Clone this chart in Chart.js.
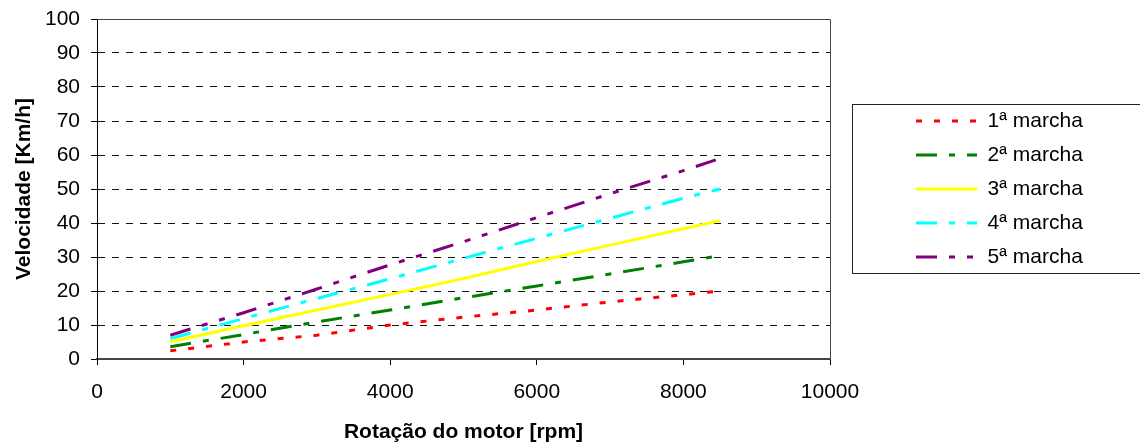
<!DOCTYPE html>
<html>
<head>
<meta charset="utf-8">
<title>Velocidade x Rotação</title>
<script src="https://cdn.jsdelivr.net/npm/chart.js@4.4.1/dist/chart.umd.min.js"></script>
<style>
  body { margin: 0; background: #fff; }
  #box { width: 1140px; height: 446px; }
</style>
</head>
<body>
<div id="box"><canvas id="speedChart"></canvas></div>
<script>
// rotação do motor (rpm) e velocidade em cada marcha (km/h)
const rpm = [1000, 2000, 3000, 4000, 5000, 6000, 7000, 8000, 8500];
const marcha1 = [2.4, 5.0, 7.0, 10.0, 12.3, 14.4, 16.8, 18.9, 20.0];
const marcha2 = [3.6, 7.2, 10.9, 14.4, 18.0, 21.5, 25.0, 28.6, 30.4];
const marcha3 = [5.1, 9.8, 14.4, 19.0, 23.7, 28.7, 33.5, 38.3, 40.7];
const marcha4 = [6.0, 11.9, 17.8, 23.6, 29.6, 35.5, 41.4, 47.3, 50.0];
const marcha5 = [7.0, 13.6, 20.6, 27.7, 34.5, 41.6, 48.6, 55.4, 59.0];
const seriesNames = ["1ª marcha", "2ª marcha", "3ª marcha", "4ª marcha", "5ª marcha"];
const xTicks = [0, 2000, 4000, 6000, 8000, 10000];
const yTicks = [0, 10, 20, 30, 40, 50, 60, 70, 80, 90, 100];

Chart.defaults.font.family = '"Liberation Sans", Arial, sans-serif';
Chart.defaults.font.size = 21;
Chart.defaults.color = "#000";

function points(values) {
    return rpm.map((r, i) => ({ x: r, y: values[i] }));
}

function serie(label, values, color, dash) {
    return {
        label: label,
        data: points(values),
        borderColor: color,
        backgroundColor: color,
        borderWidth: 3,
        borderDash: dash,
        borderCapStyle: "butt",
        pointRadius: 0,
        tension: 0,
        fill: false
    };
}

// legend keeps a fixed width so the items sit where the original has them
const legendWidth = {
    id: "legendWidth",
    beforeInit(chart) {
        const fit = chart.legend.fit;
        chart.legend.fit = function () {
            fit.call(this);
            this.width = 237;
        };
    }
};

// solid top/right edge of the plot area
const plotFrame = {
    id: "plotFrame",
    beforeDatasetsDraw(chart) {
        const { ctx, chartArea: a } = chart;
        ctx.save();
        ctx.strokeStyle = "#444";
        ctx.lineWidth = 1;
        ctx.setLineDash([]);
        ctx.beginPath();
        ctx.moveTo(a.left, Math.round(a.top) + 0.5);
        ctx.lineTo(Math.round(a.right) + 0.5, Math.round(a.top) + 0.5);
        ctx.lineTo(Math.round(a.right) + 0.5, a.bottom);
        ctx.stroke();
        ctx.restore();
    }
};

// box round the legend
const legendFrame = {
    id: "legendFrame",
    afterDraw(chart) {
        const lg = chart.legend;
        const boxes = lg.legendHitBoxes;
        if (!boxes || !boxes.length) return;
        const first = boxes[0];
        const last = boxes[boxes.length - 1];
        const ctx = chart.ctx;
        const top = Math.round(first.top - 7) + 0.5;
        const bottom = Math.round(last.top + last.height + 5) + 0.5;
        ctx.save();
        ctx.strokeStyle = "#222";
        ctx.lineWidth = 1;
        ctx.setLineDash([]);
        ctx.strokeRect(Math.round(lg.left - 51) + 0.5, top, chart.width, bottom - top);
        ctx.restore();
    }
};

const ctx = document.getElementById("speedChart").getContext("2d");

const speedChart = new Chart(ctx, {
    type: "line",
    data: {
        datasets: [
            serie(seriesNames[0], marcha1, "#FF0000", [6, 12]),
            serie(seriesNames[1], marcha2, "#008000", [21, 12, 6, 12]),
            serie(seriesNames[2], marcha3, "#FFFF00", []),
            serie(seriesNames[3], marcha4, "#00FFFF", [21, 12, 6, 12]),
            serie(seriesNames[4], marcha5, "#800080", [21, 12, 6, 12, 6, 12])
        ]
    },
    options: {
        responsive: true,
        maintainAspectRatio: false,
        animation: false,
        layout: { padding: { top: 19, right: 0, bottom: 0, left: 0 } },
        plugins: {
            tooltip: { enabled: false },
            legend: {
                position: "right",
                align: "center",
                fullSize: false,
                labels: {
                    usePointStyle: true,
                    pointStyleWidth: 61,
                    padding: 13,
                    color: "#000",
                    font: { size: 21 },
                    generateLabels(chart) {
                        return chart.data.datasets.map((ds, i) => ({
                            text: ds.label,
                            fillStyle: ds.borderColor,
                            strokeStyle: ds.borderColor,
                            fontColor: "#000",
                            lineWidth: ds.borderWidth,
                            lineDash: ds.borderDash,
                            lineCap: "butt",
                            pointStyle: "line",
                            rotation: 180,
                            hidden: false,
                            datasetIndex: i
                        }));
                    }
                }
            }
        },
        scales: {
            x: {
                type: "linear",
                position: "bottom",
                min: 0,
                max: 10000,
                afterBuildTicks(scale) {
                    scale.ticks = xTicks.map((v) => ({ value: v }));
                },
                afterFit(scale) {
                    scale.height = 87;
                },
                grid: {
                    drawOnChartArea: false,
                    drawTicks: true,
                    tickLength: 6,
                    tickColor: "#000",
                    tickWidth: 1
                },
                border: { display: true, color: "#444", width: 2 },
                ticks: {
                    padding: 15,
                    maxRotation: 0,
                    autoSkip: false,
                    color: "#000",
                    font: { size: 21 },
                    callback: (value) => String(value)
                },
                title: {
                    display: true,
                    text: "Rotação do motor [rpm]",
                    color: "#000",
                    font: { size: 21, weight: "bold" },
                    padding: { top: 0, bottom: 1 }
                }
            },
            y: {
                type: "linear",
                position: "left",
                min: 0,
                max: 100,
                afterBuildTicks(scale) {
                    scale.ticks = yTicks.map((v) => ({ value: v }));
                },
                afterFit(scale) {
                    scale.width = 97;
                    scale.paddingTop = 0;
                    scale.paddingBottom = 0;
                },
                grid: {
                    drawOnChartArea: true,
                    color: "#111",
                    lineWidth: 1,
                    tickLength: 6,
                    tickColor: "#000",
                    tickWidth: 1,
                    tickBorderDash: []
                },
                border: { display: true, color: "#000", width: 1, dash: [7, 7] },
                ticks: {
                    padding: 11,
                    color: "#000",
                    font: { size: 21 },
                    callback: (value) => String(value)
                },
                title: {
                    display: true,
                    text: "Velocidade [Km/h]",
                    color: "#000",
                    font: { size: 21, weight: "bold" },
                    padding: { top: 12, bottom: 0 }
                }
            },
            gap: {
                type: "linear",
                position: "right",
                display: true,
                grid: { display: false },
                border: { display: false },
                ticks: { display: false },
                afterFit(scale) {
                    scale.width = 73;
                    scale.paddingTop = 0;
                    scale.paddingBottom = 0;
                }
            }
        }
    },
    plugins: [legendWidth, plotFrame, legendFrame]
});
</script>
</body>
</html>
